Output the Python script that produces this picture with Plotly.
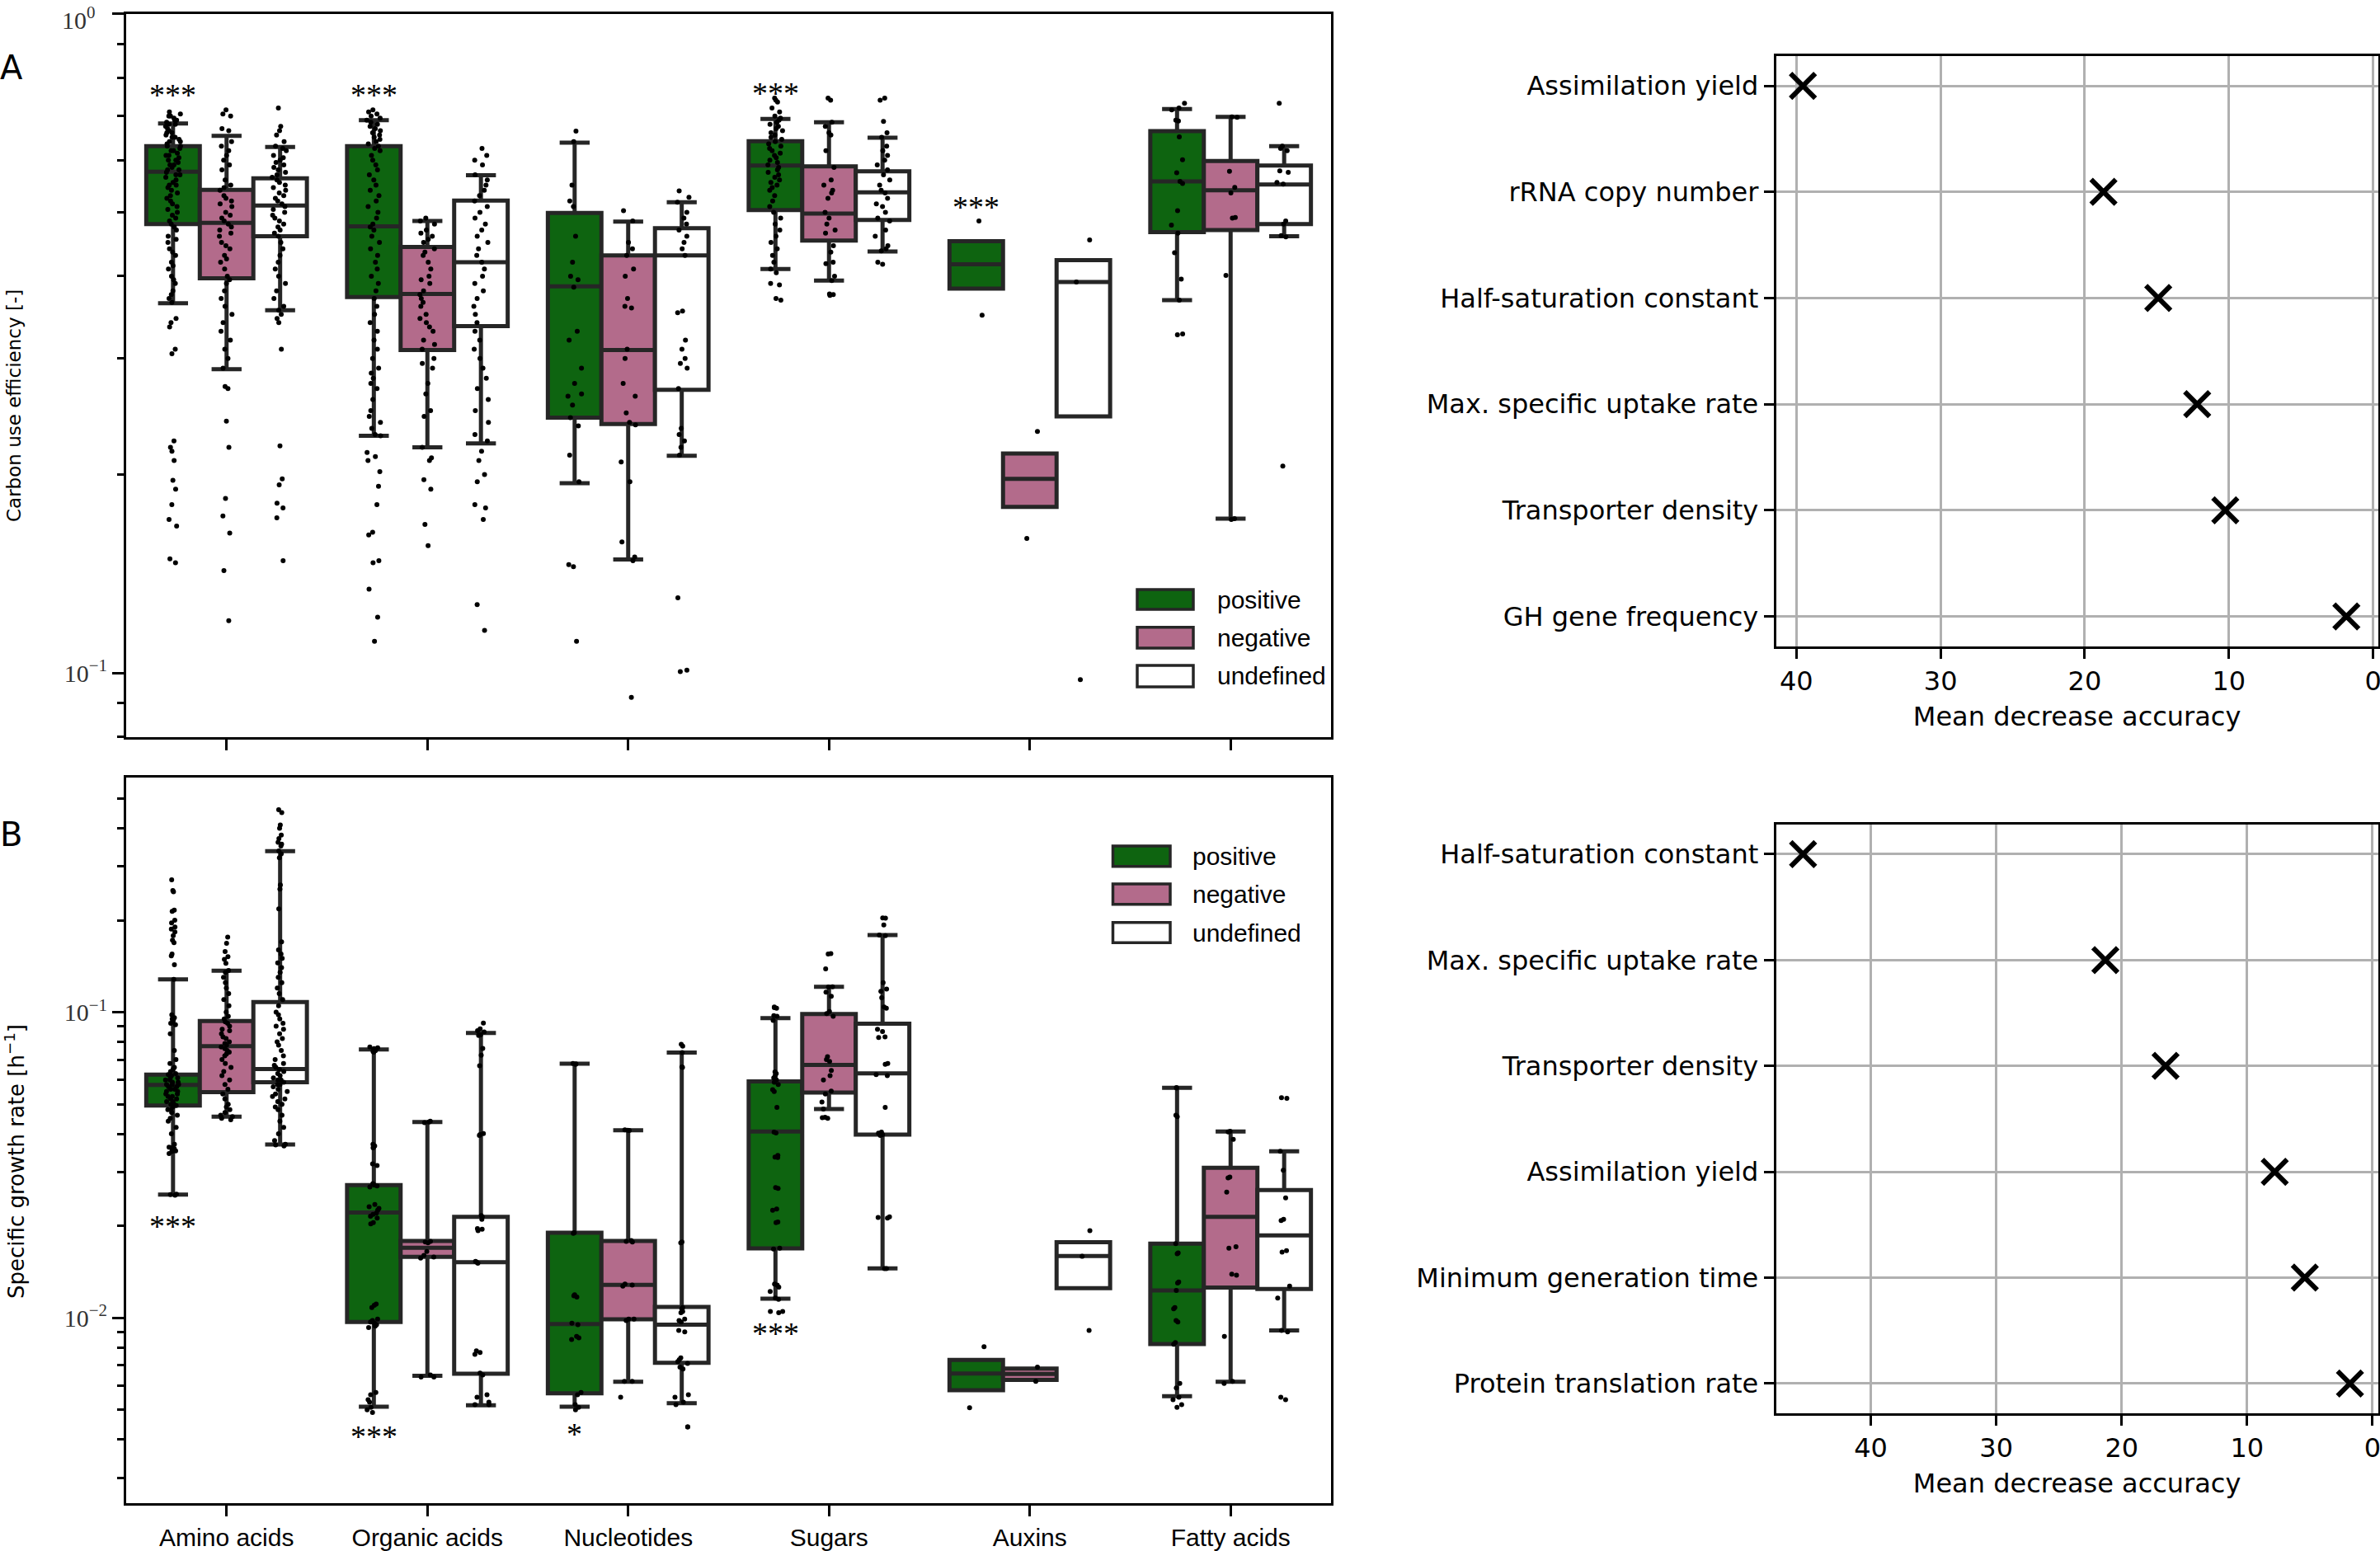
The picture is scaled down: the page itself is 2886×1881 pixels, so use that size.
import numpy as np
import plotly.graph_objects as go

W, H = 2886, 1881

categories = ["Amino acids", "Organic acids", "Nucleotides", "Sugars", "Auxins", "Fatty acids"]
hues = ["positive", "negative", "undefined"]

# ---------------- Panel A: carbon use efficiency, box statistics ----------------
cue_pos_q1 = [0.480, 0.372, 0.244, 0.504, 0.383, 0.4665]
cue_pos_med = [0.576, 0.476, 0.386, 0.589, 0.417, 0.557]
cue_pos_q3 = [0.630, 0.630, 0.499, 0.641, 0.452, 0.664]
cue_pos_lo = [0.364, 0.229, 0.194, 0.410, 0.383, 0.368]
cue_pos_hi = [0.682, 0.690, 0.638, 0.693, 0.452, 0.717]

cue_neg_q1 = [0.397, 0.309, 0.2387, 0.453, 0.1786, 0.4701]
cue_neg_med = [0.482, 0.376, 0.309, 0.498, 0.197, 0.540]
cue_neg_q3 = [0.541, 0.443, 0.430, 0.587, 0.2153, 0.598]
cue_neg_lo = [0.289, 0.220, 0.1487, 0.394, 0.1786, 0.1715]
cue_neg_hi = [0.653, 0.485, 0.484, 0.685, 0.2153, 0.698]

cue_und_q1 = [0.460, 0.336, 0.269, 0.487, 0.245, 0.480]
cue_und_med = [0.512, 0.420, 0.430, 0.536, 0.392, 0.551]
cue_und_q3 = [0.563, 0.521, 0.473, 0.577, 0.423, 0.589]
cue_und_lo = [0.355, 0.223, 0.2136, 0.436, 0.245, 0.460]
cue_und_hi = [0.628, 0.569, 0.518, 0.649, 0.423, 0.630]

# ---------------- Panel A: individual observations ----------------
cue_amino_pos = [0.71, 0.705, 0.70, 0.70, 0.695, 0.69, 0.69, 0.685, 0.68, 0.68, 0.675, 0.67, 0.665, 0.66, 0.66,
                 0.655, 0.65, 0.65, 0.645, 0.64, 0.64, 0.635, 0.63, 0.63, 0.625, 0.62, 0.62, 0.615, 0.61, 0.61,
                 0.605, 0.60, 0.60, 0.595, 0.59, 0.59, 0.585, 0.58, 0.58, 0.575, 0.57, 0.57, 0.565, 0.56, 0.555,
                 0.55, 0.55, 0.545, 0.54, 0.535, 0.53, 0.525, 0.52, 0.515, 0.51, 0.505, 0.50, 0.495, 0.49, 0.485,
                 0.48, 0.475, 0.47, 0.46, 0.455, 0.45, 0.44, 0.435, 0.43, 0.42, 0.415, 0.41, 0.40, 0.395, 0.39,
                 0.38, 0.375, 0.37, 0.365, 0.345, 0.34, 0.335, 0.31, 0.305, 0.225, 0.22, 0.217, 0.21, 0.196,
                 0.19, 0.18, 0.171, 0.167, 0.149, 0.147]
cue_amino_neg = [0.715, 0.705, 0.70, 0.67, 0.665, 0.64, 0.63, 0.62, 0.61, 0.60, 0.59, 0.58, 0.56, 0.55, 0.545,
                 0.54, 0.53, 0.525, 0.52, 0.515, 0.51, 0.50, 0.495, 0.49, 0.485, 0.48, 0.475, 0.47, 0.465, 0.46,
                 0.45, 0.445, 0.44, 0.43, 0.425, 0.42, 0.41, 0.40, 0.395, 0.39, 0.38, 0.37, 0.36, 0.35, 0.34,
                 0.33, 0.32, 0.31, 0.30, 0.29, 0.272, 0.27, 0.241, 0.22, 0.184, 0.173, 0.163, 0.143, 0.12]
cue_amino_und = [0.72, 0.675, 0.665, 0.655, 0.64, 0.63, 0.625, 0.62, 0.61, 0.605, 0.60, 0.595, 0.59, 0.585, 0.58,
                 0.575, 0.57, 0.565, 0.56, 0.555, 0.55, 0.545, 0.54, 0.535, 0.53, 0.525, 0.52, 0.515, 0.51, 0.505,
                 0.50, 0.495, 0.49, 0.485, 0.48, 0.475, 0.47, 0.465, 0.46, 0.45, 0.44, 0.43, 0.42, 0.41, 0.40,
                 0.39, 0.38, 0.37, 0.36, 0.355, 0.35, 0.345, 0.34, 0.31, 0.221, 0.197, 0.193, 0.181, 0.178, 0.172,
                 0.148]
cue_organic_pos = [0.715, 0.71, 0.705, 0.70, 0.695, 0.69, 0.685, 0.68, 0.675, 0.67, 0.665, 0.66, 0.655, 0.65,
                   0.645, 0.64, 0.635, 0.63, 0.625, 0.62, 0.61, 0.60, 0.59, 0.58, 0.57, 0.56, 0.55, 0.54, 0.53,
                   0.52, 0.51, 0.50, 0.49, 0.48, 0.475, 0.47, 0.46, 0.45, 0.44, 0.43, 0.42, 0.41, 0.40, 0.39,
                   0.38, 0.37, 0.36, 0.35, 0.34, 0.33, 0.32, 0.31, 0.30, 0.29, 0.285, 0.28, 0.275, 0.27, 0.26,
                   0.25, 0.245, 0.24, 0.235, 0.23, 0.229, 0.216, 0.213, 0.21, 0.202, 0.192, 0.18, 0.1635, 0.162,
                   0.148, 0.147, 0.134, 0.1215, 0.1117]
cue_organic_neg = [0.49, 0.485, 0.48, 0.47, 0.465, 0.46, 0.455, 0.45, 0.44, 0.435, 0.43, 0.42, 0.41, 0.40, 0.395,
                   0.39, 0.38, 0.375, 0.37, 0.365, 0.36, 0.35, 0.345, 0.34, 0.335, 0.33, 0.32, 0.315, 0.31, 0.30,
                   0.295, 0.29, 0.275, 0.265, 0.25, 0.245, 0.22, 0.212, 0.21, 0.1965, 0.19, 0.168, 0.156]
cue_organic_und = [0.625, 0.61, 0.60, 0.59, 0.57, 0.56, 0.55, 0.54, 0.53, 0.52, 0.51, 0.50, 0.49, 0.48, 0.47,
                   0.46, 0.45, 0.44, 0.43, 0.42, 0.41, 0.40, 0.39, 0.38, 0.37, 0.36, 0.35, 0.34, 0.33, 0.32,
                   0.31, 0.30, 0.29, 0.28, 0.27, 0.26, 0.25, 0.24, 0.23, 0.225, 0.217, 0.21, 0.20, 0.195, 0.18,
                   0.178, 0.171, 0.127, 0.116]
cue_nucleo_pos = [0.664, 0.64, 0.55, 0.52, 0.51, 0.46, 0.42, 0.40, 0.395, 0.385, 0.33, 0.32, 0.29, 0.275, 0.265,
                  0.263, 0.255, 0.244, 0.237, 0.214, 0.195, 0.146, 0.145, 0.1117]
cue_nucleo_neg = [0.503, 0.485, 0.45, 0.44, 0.43, 0.41, 0.40, 0.37, 0.36, 0.358, 0.31, 0.30, 0.275, 0.263, 0.248,
                  0.24, 0.238, 0.209, 0.195, 0.158, 0.15, 0.148, 0.0918]
cue_nucleo_und = [0.539, 0.527, 0.518, 0.50, 0.49, 0.48, 0.47, 0.46, 0.45, 0.44, 0.43, 0.354, 0.352, 0.32, 0.31,
                  0.30, 0.295, 0.29, 0.27, 0.235, 0.23, 0.225, 0.22, 0.214, 0.13, 0.101, 0.1005]
cue_sugar_pos = [0.745, 0.74, 0.735, 0.72, 0.71, 0.70, 0.695, 0.69, 0.685, 0.68, 0.675, 0.67, 0.665, 0.66, 0.655,
                 0.65, 0.645, 0.64, 0.635, 0.63, 0.625, 0.62, 0.615, 0.61, 0.605, 0.60, 0.595, 0.59, 0.585, 0.58,
                 0.575, 0.57, 0.565, 0.56, 0.555, 0.55, 0.545, 0.54, 0.53, 0.52, 0.51, 0.50, 0.49, 0.48, 0.47,
                 0.46, 0.45, 0.44, 0.43, 0.42, 0.41, 0.405, 0.39, 0.388, 0.37, 0.368]
cue_sugar_neg = [0.745, 0.74, 0.685, 0.675, 0.66, 0.655, 0.62, 0.585, 0.56, 0.55, 0.54, 0.535, 0.525, 0.50, 0.49,
                 0.48, 0.47, 0.465, 0.445, 0.435, 0.42, 0.418, 0.40, 0.394, 0.376, 0.375, 0.374]
cue_sugar_und = [0.745, 0.74, 0.687, 0.66, 0.65, 0.63, 0.62, 0.61, 0.60, 0.59, 0.58, 0.57, 0.56, 0.55, 0.54,
                 0.535, 0.525, 0.515, 0.51, 0.50, 0.49, 0.485, 0.47, 0.46, 0.445, 0.44, 0.437, 0.42, 0.417]
cue_auxin_pos = [0.485, 0.349]
cue_auxin_neg = [0.2325, 0.160]
cue_auxin_und = [0.454, 0.392, 0.0977]
cue_fatty_pos = [0.732, 0.72, 0.715, 0.69, 0.688, 0.651, 0.601, 0.574, 0.557, 0.553, 0.503, 0.478, 0.465, 0.434,
                 0.396, 0.368, 0.327, 0.326]
cue_fatty_neg = [0.698, 0.697, 0.577, 0.5455, 0.535, 0.491, 0.49, 0.401, 0.1715, 0.171]
cue_fatty_und = [0.732, 0.63, 0.625, 0.62, 0.578, 0.575, 0.555, 0.552, 0.485, 0.48, 0.461, 0.459, 0.206]

# ---------------- Panel B: specific growth rate, box statistics ----------------
gr_pos_q1 = [0.0495, 0.0097, 0.00566, 0.01689, 0.0058, 0.00821]
gr_pos_med = [0.0578, 0.0221, 0.00955, 0.0407, 0.00658, 0.0123]
gr_pos_q3 = [0.0625, 0.0272, 0.0190, 0.0594, 0.00728, 0.0175]
gr_pos_lo = [0.0253, 0.00512, 0.00512, 0.01156, 0.0058, 0.00554]
gr_pos_hi = [0.128, 0.0755, 0.0679, 0.0956, 0.00728, 0.0566]

gr_neg_q1 = [0.0548, 0.01584, 0.00989, 0.0546, 0.00627, 0.01256]
gr_neg_med = [0.0774, 0.01696, 0.01283, 0.0672, 0.00655, 0.0214]
gr_neg_q3 = [0.0936, 0.01786, 0.01786, 0.0986, 0.00682, 0.0310]
gr_neg_lo = [0.0455, 0.00646, 0.00618, 0.0482, 0.00627, 0.00618]
gr_neg_hi = [0.1367, 0.0437, 0.0411, 0.1212, 0.00682, 0.0407]

gr_und_q1 = [0.0590, 0.00656, 0.00713, 0.0398, 0.0125, 0.01243]
gr_und_med = [0.0652, 0.0152, 0.0095, 0.0631, 0.01594, 0.0186]
gr_und_q3 = [0.108, 0.0214, 0.01086, 0.0917, 0.01767, 0.0262]
gr_und_lo = [0.0369, 0.00518, 0.00526, 0.01451, 0.0125, 0.0091]
gr_und_hi = [0.3367, 0.0856, 0.0738, 0.179, 0.01767, 0.0351]

# ---------------- Panel B: individual observations ----------------
gr_amino_pos = [0.271, 0.25, 0.248, 0.216, 0.214, 0.2, 0.196, 0.19, 0.187, 0.183, 0.178, 0.172, 0.169, 0.155,
                0.153, 0.143, 0.128, 0.098, 0.096, 0.095, 0.094, 0.093, 0.092, 0.091, 0.085, 0.075, 0.07, 0.068,
                0.066, 0.065, 0.064, 0.063, 0.0625, 0.062, 0.061, 0.061, 0.06, 0.06, 0.059, 0.059, 0.058, 0.058,
                0.0578, 0.057, 0.057, 0.056, 0.056, 0.055, 0.055, 0.054, 0.054, 0.053, 0.053, 0.052, 0.052, 0.051,
                0.051, 0.05, 0.05, 0.0495, 0.049, 0.048, 0.048, 0.047, 0.046, 0.045, 0.044, 0.042, 0.04, 0.037,
                0.0362, 0.036, 0.0358, 0.0355, 0.0352, 0.035, 0.0345, 0.0254, 0.0253, 0.0252]
gr_amino_neg = [0.176, 0.168, 0.158, 0.152, 0.149, 0.1446, 0.137, 0.135, 0.13, 0.125, 0.12, 0.115, 0.11, 0.105,
                0.10, 0.097, 0.095, 0.093, 0.092, 0.09, 0.088, 0.087, 0.085, 0.083, 0.082, 0.08, 0.079, 0.078,
                0.077, 0.076, 0.075, 0.074, 0.073, 0.072, 0.07, 0.068, 0.066, 0.064, 0.062, 0.06, 0.058, 0.056,
                0.054, 0.052, 0.05, 0.049, 0.048, 0.047, 0.046, 0.0455, 0.045, 0.0445]
gr_amino_und = [0.46, 0.45, 0.41, 0.40, 0.38, 0.37, 0.36, 0.355, 0.35, 0.337, 0.33, 0.32, 0.261, 0.253, 0.218,
                0.17, 0.16, 0.155, 0.15, 0.145, 0.14, 0.135, 0.13, 0.125, 0.12, 0.115, 0.11, 0.105, 0.10, 0.098,
                0.095, 0.092, 0.09, 0.088, 0.085, 0.082, 0.08, 0.078, 0.075, 0.072, 0.07, 0.068, 0.067, 0.066,
                0.065, 0.064, 0.063, 0.062, 0.061, 0.06, 0.06, 0.059, 0.058, 0.058, 0.057, 0.056, 0.055, 0.054,
                0.053, 0.052, 0.051, 0.05, 0.049, 0.048, 0.046, 0.044, 0.042, 0.04, 0.038, 0.037, 0.0368, 0.0365]
gr_organic_pos = [0.077, 0.0765, 0.076, 0.0755, 0.075, 0.0748, 0.0745, 0.074, 0.037, 0.0365, 0.0362, 0.036,
                  0.0319, 0.0315, 0.0275, 0.0272, 0.027, 0.0268, 0.0235, 0.0231, 0.0228, 0.0225, 0.022, 0.0218,
                  0.0215, 0.0212, 0.0205, 0.0203, 0.0111, 0.011, 0.0108, 0.0099, 0.0098, 0.0097, 0.0096, 0.0095,
                  0.0094, 0.0093, 0.0057, 0.0056, 0.0054, 0.0053, 0.0051, 0.0050, 0.0049]
gr_organic_neg = [0.044, 0.0437, 0.0435, 0.0178, 0.0177, 0.0176, 0.0165, 0.016, 0.0158, 0.0157, 0.0065, 0.0064,
                  0.0064]
gr_organic_und = [0.0922, 0.0882, 0.087, 0.0862, 0.0844, 0.084, 0.0761, 0.0723, 0.0668, 0.0401, 0.0398, 0.0395,
                  0.0216, 0.0214, 0.021, 0.0196, 0.0195, 0.0193, 0.0153, 0.0152, 0.0151, 0.0078, 0.0077, 0.0076,
                  0.0066, 0.0065, 0.0056, 0.0055, 0.0053, 0.0052, 0.0052]
gr_nucleo_pos = [0.068, 0.0678, 0.0675, 0.019, 0.0189, 0.0119, 0.0118, 0.0117, 0.0096, 0.0095, 0.0087, 0.0086,
                 0.0085, 0.0057, 0.0056, 0.0052, 0.0051, 0.005]
gr_nucleo_neg = [0.0412, 0.0411, 0.041, 0.0179, 0.0178, 0.0177, 0.0129, 0.0128, 0.0127, 0.0099, 0.0099, 0.0098,
                 0.0062, 0.0062, 0.0055]
gr_nucleo_und = [0.0785, 0.0775, 0.0738, 0.0662, 0.066, 0.0177, 0.0176, 0.0108, 0.0107, 0.0105, 0.0104, 0.0099,
                 0.0098, 0.0097, 0.0091, 0.009, 0.0074, 0.0073, 0.0072, 0.0071, 0.0069, 0.0068, 0.0056, 0.0055,
                 0.0053, 0.0052, 0.0044, 0.0044]
gr_sugar_pos = [0.104, 0.1035, 0.103, 0.0975, 0.097, 0.094, 0.0638, 0.063, 0.062, 0.061, 0.06, 0.059, 0.058,
                0.0558, 0.055, 0.0488, 0.0405, 0.0403, 0.034, 0.0336, 0.0335, 0.0267, 0.0265, 0.0227, 0.0225,
                0.0206, 0.0205, 0.0169, 0.0168, 0.0129, 0.0128, 0.0126, 0.0122, 0.0116, 0.0115, 0.0105, 0.0105,
                0.0104]
gr_sugar_neg = [0.1555, 0.155, 0.1386, 0.1212, 0.121, 0.1163, 0.1128, 0.1006, 0.099, 0.097, 0.0715, 0.07, 0.069,
                0.0645, 0.062, 0.06, 0.0552, 0.054, 0.0508, 0.0482, 0.0453, 0.0452, 0.045]
gr_sugar_und = [0.2035, 0.203, 0.193, 0.179, 0.178, 0.125, 0.119, 0.117, 0.1116, 0.104, 0.103, 0.088, 0.0865,
                0.083, 0.0827, 0.068, 0.0675, 0.0625, 0.062, 0.0488, 0.0405, 0.0402, 0.0398, 0.0395, 0.0214,
                0.0213, 0.0212, 0.0145, 0.0145]
gr_auxin_pos = [0.00804, 0.00508]
gr_auxin_neg = [0.0069, 0.0062]
gr_auxin_und = [0.0193, 0.0159, 0.0091]
gr_fatty_pos = [0.0567, 0.0565, 0.046, 0.0455, 0.0175, 0.0163, 0.0162, 0.0131, 0.013, 0.0123, 0.0108, 0.0107,
                0.0098, 0.0097, 0.0083, 0.0082, 0.0061, 0.0059, 0.0055, 0.0054, 0.0052, 0.0051]
gr_fatty_neg = [0.0408, 0.0406, 0.0384, 0.0289, 0.0287, 0.0258, 0.0171, 0.0169, 0.0139, 0.0138, 0.0087, 0.0062,
                0.0061]
gr_fatty_und = [0.0525, 0.0523, 0.0351, 0.0304, 0.0247, 0.021, 0.0208, 0.0166, 0.0164, 0.0127, 0.0116, 0.0091,
                0.009, 0.0055, 0.0054]

# ---------------- significance marks ----------------
sig_a_text = ["***", "***", "***", "***"]
sig_a_cat = [0, 1, 3, 4]
sig_a_y = [0.769, 0.769, 0.774, 0.520]
sig_b_text = ["***", "***", "*", "***"]
sig_b_cat = [0, 1, 2, 3]
sig_b_y = [0.0208, 0.00428, 0.00436, 0.0093]

# ---------------- feature importance ----------------
imp_a_features = ["Assimilation yield", "rRNA copy number", "Half-saturation constant",
                  "Max. specific uptake rate", "Transporter density", "GH gene frequency"]
imp_a_values = [39.55, 18.7, 14.9, 12.2, 10.25, 1.85]
imp_b_features = ["Half-saturation constant", "Max. specific uptake rate", "Transporter density",
                  "Assimilation yield", "Minimum generation time", "Protein translation rate"]
imp_b_values = [45.4, 21.3, 16.5, 7.8, 5.4, 1.8]

# ---------------- assemble ----------------
cue_stats = [
    (cue_pos_q1, cue_pos_med, cue_pos_q3, cue_pos_lo, cue_pos_hi),
    (cue_neg_q1, cue_neg_med, cue_neg_q3, cue_neg_lo, cue_neg_hi),
    (cue_und_q1, cue_und_med, cue_und_q3, cue_und_lo, cue_und_hi),
]
gr_stats = [
    (gr_pos_q1, gr_pos_med, gr_pos_q3, gr_pos_lo, gr_pos_hi),
    (gr_neg_q1, gr_neg_med, gr_neg_q3, gr_neg_lo, gr_neg_hi),
    (gr_und_q1, gr_und_med, gr_und_q3, gr_und_lo, gr_und_hi),
]
cue_points = [
    [cue_amino_pos, cue_amino_neg, cue_amino_und],
    [cue_organic_pos, cue_organic_neg, cue_organic_und],
    [cue_nucleo_pos, cue_nucleo_neg, cue_nucleo_und],
    [cue_sugar_pos, cue_sugar_neg, cue_sugar_und],
    [cue_auxin_pos, cue_auxin_neg, cue_auxin_und],
    [cue_fatty_pos, cue_fatty_neg, cue_fatty_und],
]
gr_points = [
    [gr_amino_pos, gr_amino_neg, gr_amino_und],
    [gr_organic_pos, gr_organic_neg, gr_organic_und],
    [gr_nucleo_pos, gr_nucleo_neg, gr_nucleo_und],
    [gr_sugar_pos, gr_sugar_neg, gr_sugar_und],
    [gr_auxin_pos, gr_auxin_neg, gr_auxin_und],
    [gr_fatty_pos, gr_fatty_neg, gr_fatty_und],
]

# ---------------- styles ----------------
FILL = {"positive": "#0e6410", "negative": "#b36b8b", "undefined": "#ffffff"}
EDGE = "#262626"
BOXW = 0.8 / 3
OFFS = [-BOXW, 0.0, BOXW]
SERIF = "Liberation Serif, DejaVu Serif, serif"
NARROW = "Liberation Sans Narrow, Liberation Sans, Lato, sans-serif"
DJV = "DejaVu Sans, sans-serif"


def px_x(x):
    return x / W


def px_y(y):
    return 1 - y / H


fig = go.Figure()


def add_box_panel(stats, points, xa, ya):
    for hi, hue in enumerate(hues):
        q1, med, q3, lo, up = stats[hi]
        fig.add_trace(go.Box(
            x=[ci + OFFS[hi] for ci in range(len(categories))],
            q1=q1, median=med, q3=q3, lowerfence=lo, upperfence=up,
            width=BOXW, whiskerwidth=0.56, fillcolor=FILL[hue],
            line=dict(color=EDGE, width=5), boxpoints=False,
            showlegend=False, hoverinfo="skip", xaxis=xa, yaxis=ya))
    for hi, hue in enumerate(hues):
        xs, ys = [], []
        for ci in range(len(categories)):
            pts = points[ci][hi]
            xs += [ci + OFFS[hi]] * len(pts)
            ys += pts
        fig.add_trace(go.Box(
            x=xs, y=ys, boxpoints="all", jitter=0.3, pointpos=0, width=BOXW,
            fillcolor="rgba(0,0,0,0)", line=dict(color="rgba(0,0,0,0)", width=0),
            marker=dict(color="black", size=6, line=dict(width=0)),
            showlegend=False, hoverinfo="skip", xaxis=xa, yaxis=ya))


add_box_panel(cue_stats, cue_points, "x", "y")
add_box_panel(gr_stats, gr_points, "x2", "y2")

xmark = dict(symbol="x-thin", size=30, color="black", line=dict(width=6, color="black"))
fig.add_trace(go.Scatter(x=imp_a_values, y=imp_a_features, mode="markers", marker=xmark,
                         showlegend=False, xaxis="x3", yaxis="y3", cliponaxis=False))
fig.add_trace(go.Scatter(x=imp_b_values, y=imp_b_features, mode="markers", marker=xmark,
                         showlegend=False, xaxis="x4", yaxis="y4", cliponaxis=False))

# ---------------- axes ----------------
left_dom = [px_x(153), px_x(1614)]
right_dom = [px_x(2153.7), px_x(2883.5)]
a_dom = [px_y(894), px_y(16.5)]
b_dom = [px_y(1822.7), px_y(942.7)]
ra_dom = [px_y(783.6), px_y(68)]
rb_dom = [px_y(1713.8), px_y(1000)]


def minor_vals(e0, e1):
    return [m * 10.0 ** e for e in range(e0, e1) for m in range(2, 10)]


common_line = dict(showline=True, mirror=True, linecolor="black", linewidth=3, zeroline=False,
                   ticklabeloverflow="allow", automargin=False)

cat_x = dict(range=[-0.5, 5.5], tickmode="array", tickvals=list(range(len(categories))), ticktext=categories,
             ticks="outside", ticklen=13, tickwidth=3, tickcolor="black", showgrid=False, type="linear",
             tickfont=dict(family=NARROW, size=30, color="black"), **common_line)

fig.update_layout(
    xaxis=dict(domain=left_dom, anchor="y", showticklabels=False, **cat_x),
    yaxis=dict(domain=a_dom, anchor="x", type="log", range=[np.log10(0.0799), 0.0005],
               tickmode="array", tickvals=[1.0, 0.1], ticktext=["", "10<sup>\u22121</sup>"],
               ticks="outside", ticklen=14, tickwidth=3, tickcolor="black", showgrid=False,
               minor=dict(tickmode="array", tickvals=minor_vals(-2, 0), ticks="outside", ticklen=8,
                          tickwidth=2.5, tickcolor="black", showgrid=False),
               tickfont=dict(family=SERIF, size=30, color="#333"), **common_line),
    xaxis2=dict(domain=left_dom, anchor="y2", **cat_x),
    yaxis2=dict(domain=b_dom, anchor="x2", type="log", range=[np.log10(0.00248), np.log10(0.587)],
                tickmode="array", tickvals=[0.1, 0.01], ticktext=["10<sup>\u22121</sup>", "10<sup>\u22122</sup>"],
                ticks="outside", ticklen=14, tickwidth=3, tickcolor="black", showgrid=False,
                minor=dict(tickmode="array", tickvals=minor_vals(-3, 0), ticks="outside", ticklen=8,
                           tickwidth=2.5, tickcolor="black", showgrid=False),
                tickfont=dict(family=SERIF, size=30, color="#333"), **common_line),
)

imp_x = dict(tickmode="array", tickvals=[40, 30, 20, 10, 0], ticks="outside", ticklen=12, tickwidth=3,
             tickcolor="black", showgrid=True, gridcolor="#b0b0b0", gridwidth=2.5,
             tickfont=dict(family=DJV, size=32, color="black"),
             title=dict(text="Mean decrease accuracy", font=dict(family=DJV, size=32, color="black"), standoff=14),
             **common_line)
imp_y = dict(type="category", ticks="outside", ticklen=12, tickwidth=3, tickcolor="black", showgrid=True,
             gridcolor="#b0b0b0", gridwidth=2.5, range=[5.28, -0.28],
             tickfont=dict(family=DJV, size=32, color="black"), **common_line)

fig.update_layout(
    xaxis3=dict(domain=right_dom, anchor="y3", range=[41.41, -0.34], **imp_x),
    yaxis3=dict(domain=ra_dom, anchor="x3", categoryorder="array", categoryarray=imp_a_features, **imp_y),
    xaxis4=dict(domain=right_dom, anchor="y4", range=[47.55, -0.43], **imp_x),
    yaxis4=dict(domain=rb_dom, anchor="x4", categoryorder="array", categoryarray=imp_b_features, **imp_y),
)

# ---------------- annotations ----------------
ann = []
for t, c, v in zip(sig_a_text, sig_a_cat, sig_a_y):
    ann.append(dict(text=t, x=c + OFFS[0], y=np.log10(v), xref="x", yref="y", showarrow=False,
                    xanchor="center", yanchor="middle",
                    font=dict(family=SERIF, size=38, color="black"), yshift=-7))
for t, c, v in zip(sig_b_text, sig_b_cat, sig_b_y):
    ann.append(dict(text=t, x=c + OFFS[0], y=np.log10(v), xref="x2", yref="y2", showarrow=False,
                    xanchor="center", yanchor="middle",
                    font=dict(family=SERIF, size=38, color="black"), yshift=-7))

# top tick label of panel A, kept inside the page
ann.append(dict(text="10<sup>0</sup>", x=px_x(118), y=px_y(1), xref="paper", yref="paper", showarrow=False,
                xanchor="right", yanchor="top", font=dict(family=SERIF, size=30, color="#333")))

ann.append(dict(text="A", x=px_x(14), y=px_y(82), xref="paper", yref="paper", showarrow=False,
                xanchor="center", yanchor="middle", font=dict(family=DJV, size=40, color="black")))
ann.append(dict(text="B", x=px_x(14), y=px_y(1012), xref="paper", yref="paper", showarrow=False,
                xanchor="center", yanchor="middle", font=dict(family=DJV, size=40, color="black")))
ann.append(dict(text="Carbon use efficiency [-]", x=px_x(17), y=px_y(492), xref="paper", yref="paper",
                xanchor="center", yanchor="middle",
                showarrow=False, textangle=-90, font=dict(family=DJV, size=23, color="black")))
ann.append(dict(text="Specific growth rate [h<sup>\u22121</sup>]", x=px_x(18), y=px_y(1409), xref="paper",
                yref="paper", xanchor="center", yanchor="middle",
                showarrow=False, textangle=-90, font=dict(family=DJV, size=26, color="black")))

# ---------------- manual legends ----------------
shapes = []
legend_a = dict(x0=1379, x1=1447, rows=[(715, 739), (760.7, 786), (807, 833)], tx=1474)
legend_b = dict(x0=1349.5, x1=1419, rows=[(1026, 1050.7), (1072, 1096.7), (1118.7, 1143.3)], tx=1444.4)
for lg in (legend_a, legend_b):
    for hue, (y0, y1) in zip(hues, lg["rows"]):
        shapes.append(dict(type="rect", xref="paper", yref="paper", x0=px_x(lg["x0"]), x1=px_x(lg["x1"]),
                           y0=px_y(y1), y1=px_y(y0), fillcolor=FILL[hue], line=dict(color=EDGE, width=3.5)))
        ann.append(dict(text=hue, x=px_x(lg["tx"]), y=px_y((y0 + y1) / 2), xref="paper", yref="paper",
                        xanchor="left", yanchor="middle", showarrow=False,
                        font=dict(family=NARROW, size=30, color="black")))

fig.update_layout(
    width=W, height=H, margin=dict(l=0, r=0, t=0, b=0, autoexpand=False),
    paper_bgcolor="white", plot_bgcolor="white",
    boxmode="overlay", showlegend=False,
    annotations=ann, shapes=shapes,
)

fig.write_html("out.html")
